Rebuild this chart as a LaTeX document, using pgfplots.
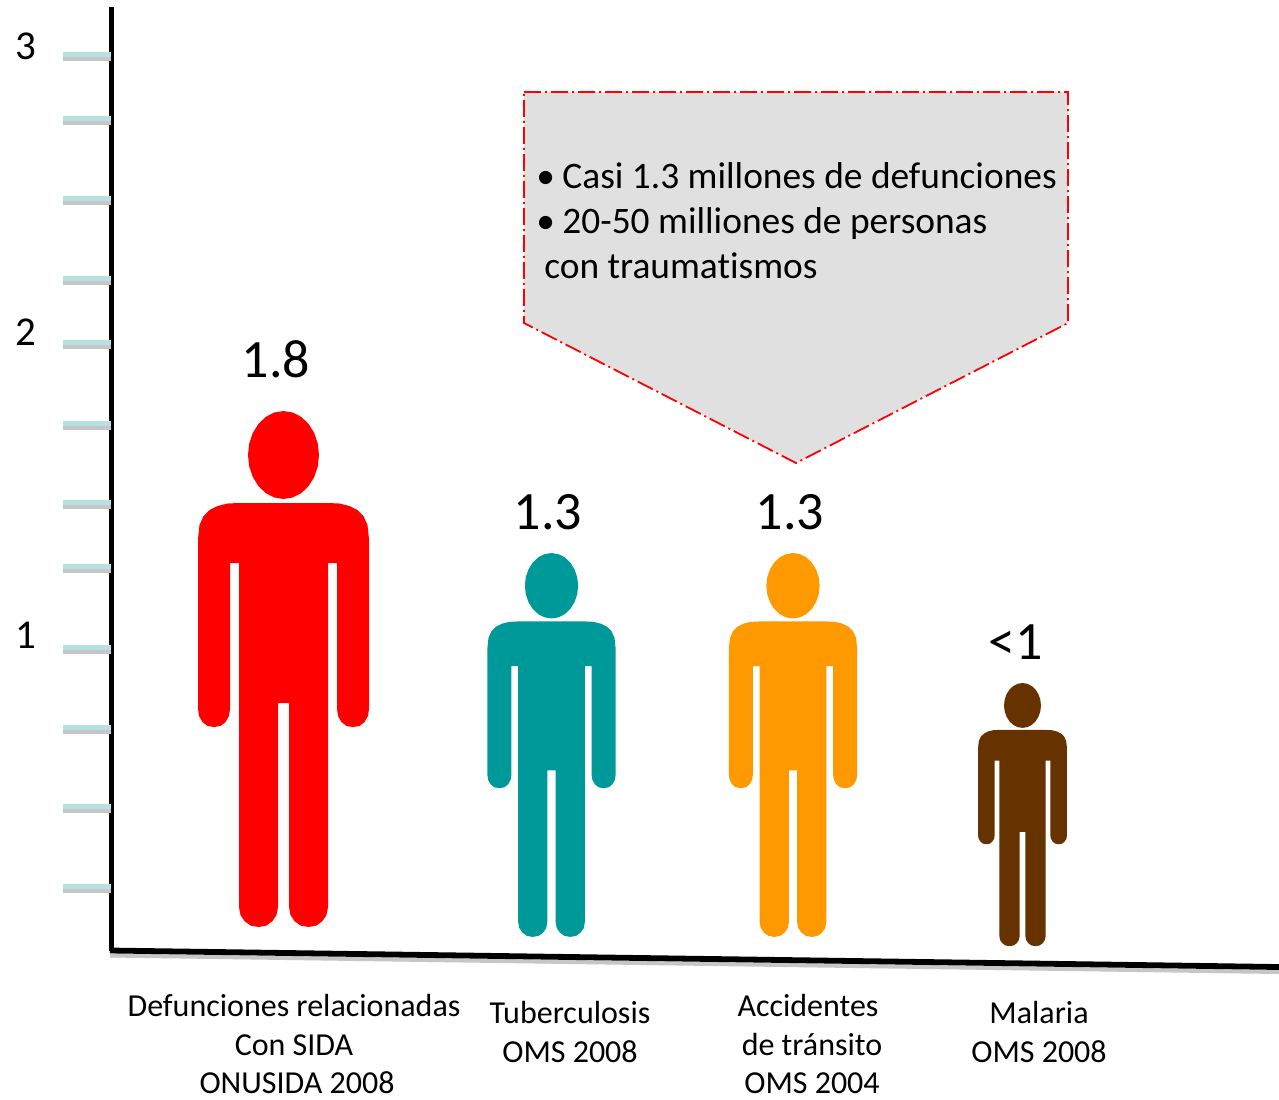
\documentclass[border=0pt]{standalone}
\usepackage{fontspec}
\setmainfont[Ligatures=NoCommon]{Carlito}
\usepackage{pgfplots}
\pgfplotsset{compat=1.18}
\usepackage{pgfplotstable}
\definecolor{tealp}{HTML}{009999}
\definecolor{orangep}{HTML}{FF9900}
\definecolor{brownp}{HTML}{663300}
\definecolor{tickblue}{HTML}{B7E0E3}
\definecolor{tickgray}{HTML}{C6C6C6}
\definecolor{boxgray}{HTML}{E0E0E0}
\pgfplotstableread{
dx dy
0 92
45 92
56 92.5
66 95
74 99
80 105
84 114
85.5 128
85.5 298
84.5 305
81 311
76 315
69.5 316
63 315
58 311
54.5 305
53.5 298
53.5 152
44.5 152
44.5 496
43 504
39 510
33 514.5
25 516
17 514.5
11 510
7 504
5.5 496
5.5 292
-5.5 292
-5.5 496
-7 504
-11 510
-17 514.5
-25 516
-33 514.5
-39 510
-43 504
-44.5 496
-44.5 152
-53.5 152
-53.5 298
-54.5 305
-58 311
-63 315
-69.5 316
-76 315
-81 311
-84.5 305
-85.5 298
-85.5 128
-84 114
-80 105
-74 99
-66 95
-56 92.5
-45 92
0 92
}\bodytable
\pgfplotstableread{
dx dy
35.5 44
34.3 55.4
30.7 66
25.1 75.1
17.75 82.1
9.2 86.5
0 88
-9.2 86.5
-17.75 82.1
-25.1 75.1
-30.7 66
-34.3 55.4
-35.5 44
-34.3 32.6
-30.7 22
-25.1 12.9
-17.75 5.9
-9.2 1.5
0 0
9.2 1.5
17.75 5.9
25.1 12.9
30.7 22
34.3 32.6
35.5 44
}\headtable
\pgfplotstableread{
x y
63 56.5
111 56.5
nan nan
63 120.5
111 120.5
nan nan
63 200.5
111 200.5
nan nan
63 280.5
111 280.5
nan nan
63 344.5
111 344.5
nan nan
63 425
111 425
nan nan
63 504
111 504
nan nan
63 568.5
111 568.5
nan nan
63 649
111 649
nan nan
63 729
111 729
nan nan
63 808.5
111 808.5
nan nan
63 888.5
111 888.5
}\ticktable
% #1 colour, #2 centre x, #3 top y, #4 x scale, #5 y scale
\newcommand{\person}[5]{%
  \addplot[fill=#1,draw=none] table[x expr={#2+#4*\thisrow{dx}},y expr={#3+#5*\thisrow{dy}}] {\bodytable};
  \addplot[fill=#1,draw=none] table[x expr={#2+#4*\thisrow{dx}},y expr={#3+#5*\thisrow{dy}}] {\headtable};
}
\newcommand{\boxtext}[3]{%
  \node[font=\fontsize{18.7}{22}\selectfont,anchor=base west,inner sep=0pt] at (axis cs:#1,#2) {#3};
}
\begin{document}
\begin{tikzpicture}
\begin{axis}[
  scale only axis,width=639.5pt,height=549.5pt,
  xmin=0,xmax=1279,ymin=0,ymax=1099,y dir=reverse,
  hide axis,unbounded coords=jump,
  every axis plot/.append style={line cap=butt},
]
\addplot[fill=white,draw=none] coordinates {(0,0)(1279,0)(1279,1099)(0,1099)(0,0)};
% callout
\addplot[fill=boxgray,draw=red,line width=0.9pt,dash pattern=on 8.5pt off 2pt on 1pt off 2pt]
  coordinates {(524,92)(1068,92)(1068,323)(796,463)(524,323)(524,92)};
% axes
\addplot[color=tickgray,line width=2pt] coordinates {(110,955.5)(1279,972)};
\addplot[color=black,line width=2.8pt] coordinates {(111.4,7)(111.4,951)};
\addplot[color=black,line width=2.9pt] coordinates {(110,950.5)(1279,967)};
% ticks
\addplot[color=tickgray,line width=2pt] table[x=x,y expr={\thisrow{y}+2.5}] {\ticktable};
\addplot[color=tickblue,line width=2.5pt] table[x=x,y expr={\thisrow{y}-2}] {\ticktable};
% people
\person{red}{283.5}{411}{1}{1}
\person{tealp}{551.5}{553}{0.75}{0.744}
\person{orangep}{793}{553}{0.75}{0.744}
\person{brownp}{1022.5}{683}{0.52}{0.51}
% tick numbers
\node[font=\fontsize{20.5}{24}\selectfont,anchor=base] at (axis cs:26,59) {3};
\node[font=\fontsize{20.5}{24}\selectfont,anchor=base] at (axis cs:26,345) {2};
\node[font=\fontsize{20.5}{24}\selectfont,anchor=base] at (axis cs:26,648) {1};
% values
\node[font=\fontsize{27}{30}\selectfont,anchor=base] at (axis cs:276,377) {1.8};
\node[font=\fontsize{27}{30}\selectfont,anchor=base] at (axis cs:548,529) {1.3};
\node[font=\fontsize{27}{30}\selectfont,anchor=base] at (axis cs:790,529) {1.3};
\node[font=\fontsize{27}{30}\selectfont,anchor=base] at (axis cs:1016,659) {<1};
% callout text
\boxtext{536}{188.5}{•}
\boxtext{562}{188.5}{Casi 1.3 millones de defunciones}
\boxtext{536}{233.5}{•}
\boxtext{562}{233.5}{20-50 milliones de personas}
\boxtext{544}{278}{con traumatismos}
% category labels
\node[font=\fontsize{16}{18}\selectfont,anchor=base] at (axis cs:294,1016) {Defunciones relacionadas};
\node[font=\fontsize{16}{18}\selectfont,anchor=base] at (axis cs:294,1055) {Con SIDA};
\node[font=\fontsize{16}{18}\selectfont,anchor=base] at (axis cs:297,1093) {ONUSIDA 2008};
\node[font=\fontsize{16}{18}\selectfont,anchor=base] at (axis cs:570,1023) {Tuberculosis};
\node[font=\fontsize{16}{18}\selectfont,anchor=base] at (axis cs:570,1062) {OMS 2008};
\node[font=\fontsize{16}{18}\selectfont,anchor=base] at (axis cs:808,1016) {Accidentes};
\node[font=\fontsize{16}{18}\selectfont,anchor=base] at (axis cs:812,1055) {de tránsito};
\node[font=\fontsize{16}{18}\selectfont,anchor=base] at (axis cs:812,1093) {OMS 2004};
\node[font=\fontsize{16}{18}\selectfont,anchor=base] at (axis cs:1039,1023) {Malaria};
\node[font=\fontsize{16}{18}\selectfont,anchor=base] at (axis cs:1039,1062) {OMS 2008};
\end{axis}
\end{tikzpicture}
\end{document}
